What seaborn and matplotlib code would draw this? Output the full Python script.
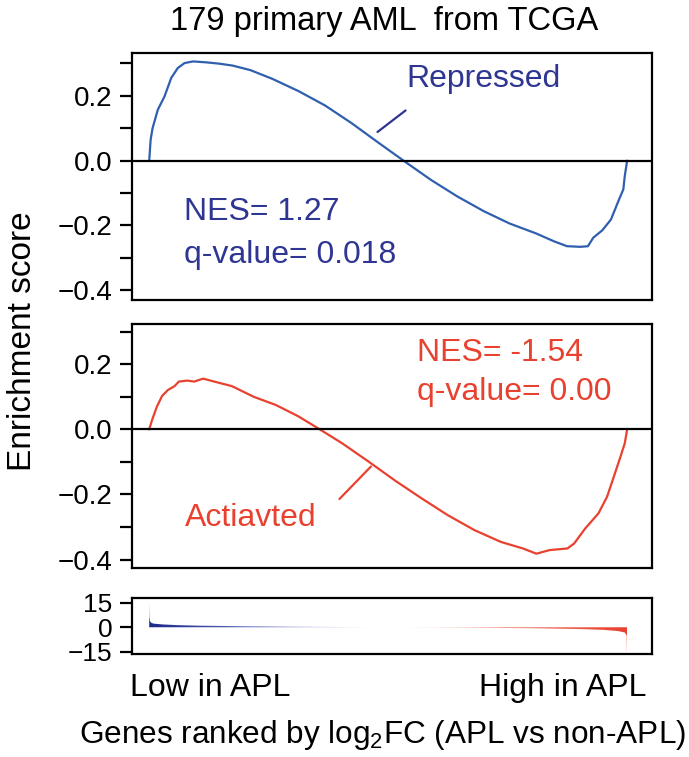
import numpy as np
import matplotlib
matplotlib.use("Agg")
import matplotlib.pyplot as plt
import seaborn as sns
from matplotlib.colors import LinearSegmentedColormap
from matplotlib.ticker import FixedLocator, FixedFormatter

# running enrichment score, repressed gene set (fraction of ranked list, ES)
rep_rank = [0, 0.003, 0.007, 0.018, 0.032, 0.046, 0.06, 0.074, 0.092, 0.12, 0.147,
            0.175, 0.212, 0.258, 0.313, 0.368, 0.423, 0.478, 0.532, 0.589, 0.644,
            0.70, 0.754, 0.81, 0.847, 0.874, 0.902, 0.918, 0.929, 0.948, 0.966,
            0.983, 0.992, 0.995, 1.0]
rep_es = [0, 0.065, 0.10, 0.157, 0.198, 0.255, 0.286, 0.301, 0.306, 0.303, 0.299,
          0.293, 0.279, 0.252, 0.214, 0.17, 0.116, 0.057, 0.0, -0.059, -0.11,
          -0.156, -0.194, -0.225, -0.249, -0.264, -0.266, -0.264, -0.238, -0.215, -0.182,
          -0.12, -0.089, -0.048, 0]

# running enrichment score, activated gene set
act_rank = [0, 0.006, 0.016, 0.027, 0.039, 0.053, 0.062, 0.08, 0.094, 0.113, 0.136,
            0.173, 0.219, 0.265, 0.311, 0.357, 0.404, 0.459, 0.515, 0.57, 0.625,
            0.681, 0.736, 0.782, 0.81, 0.838, 0.875, 0.889, 0.912, 0.94, 0.958,
            0.972, 0.986, 0.995, 1.0]
act_es = [0, 0.029, 0.07, 0.103, 0.121, 0.133, 0.147, 0.15, 0.147, 0.156, 0.147,
          0.133, 0.10, 0.075, 0.041, 0.0, -0.043, -0.099, -0.158, -0.212, -0.264,
          -0.31, -0.346, -0.366, -0.382, -0.371, -0.366, -0.351, -0.305, -0.258, -0.207,
          -0.146, -0.084, -0.043, 0]

# ranked log2FC metric
metric_rank = [0, 0.0005, 0.002, 0.005, 0.01, 0.03, 0.06, 0.1, 0.2, 0.3, 0.4, 0.5,
               0.6, 0.7, 0.8, 0.9, 0.95, 0.98, 0.995, 0.999, 0.9995, 1.0]
metric_fc = [15, 6, 3.5, 2.6, 2.2, 1.7, 1.3, 1.0, 0.6, 0.35, 0.15, 0.0,
             -0.15, -0.35, -0.6, -1.1, -1.6, -2.3, -3.2, -5.0, -15, -15]

es_ticks = [0.3, 0.2, 0.1, 0.0, -0.1, -0.2, -0.3, -0.4]
es_ticklabels = ["", "0.2", "", "0.0", "", "\u22120.2", "", "\u22120.4"]
fc_ticks = [15, 0, -15]
fc_ticklabels = ["15", "0", "\u221215"]

title = "179 primary AML  from TCGA"

BLUE_LINE = "#2f5fae"
BLUE_TEXT = "#2e3592"
RED = "#e8412f"

sns.set_style("white")
plt.rcParams['font.family'] = ['Liberation Sans', 'DejaVu Sans']
plt.rcParams['mathtext.fontset'] = 'custom'
plt.rcParams['mathtext.rm'] = 'Liberation Sans'
for key in ['text.color', 'axes.labelcolor', 'xtick.color', 'ytick.color']:
    plt.rcParams[key] = 'black'

fig = plt.figure(figsize=(6.89, 7.57), dpi=100)
ax1 = fig.add_axes([0.1916, 0.6037, 0.7547, 0.3263])
ax2 = fig.add_axes([0.1916, 0.2497, 0.7547, 0.3223])
ax3 = fig.add_axes([0.1916, 0.136, 0.7547, 0.074])

XLIM = (-0.036, 1.052)

def style_box(ax, labelsize=20):
    for sp in ax.spines.values():
        sp.set_visible(True)
        sp.set_color("black")
        sp.set_linewidth(1.6)
    ax.set_xlim(*XLIM)
    ax.set_xticks([])
    ax.tick_params(axis='y', direction='out', length=9, width=1.6, pad=5,
                   labelsize=labelsize, left=True, colors='black')
    ax.set_xlabel("")
    ax.set_ylabel("")

# top: repressed
sns.lineplot(x=rep_rank, y=rep_es, ax=ax1, color=BLUE_LINE, lw=1.6)
ax1.axhline(0, color='black', lw=1.6)
ax1.set_ylim(-0.43, 0.332)
style_box(ax1)
ax1.yaxis.set_major_locator(FixedLocator(es_ticks))
ax1.yaxis.set_major_formatter(FixedFormatter(es_ticklabels))
ax1.text(0.538, 0.252, "Repressed", color=BLUE_TEXT, fontsize=23, va='center', ha='left')
ax1.annotate("", xy=(0.473, 0.083), xytext=(0.541, 0.16),
             arrowprops=dict(arrowstyle='-', color=BLUE_TEXT, lw=1.6))
ax1.text(0.072, -0.16, "NES= 1.27", color=BLUE_TEXT, fontsize=23, va='center', ha='left')
ax1.text(0.072, -0.29, "q-value= 0.018", color=BLUE_TEXT, fontsize=23, va='center', ha='left')

# middle: activated
sns.lineplot(x=act_rank, y=act_es, ax=ax2, color=RED, lw=1.6)
ax2.axhline(0, color='black', lw=1.6)
ax2.set_ylim(-0.426, 0.324)
style_box(ax2)
ax2.yaxis.set_major_locator(FixedLocator(es_ticks))
ax2.yaxis.set_major_formatter(FixedFormatter(es_ticklabels))
ax2.text(0.56, 0.236, "NES= -1.54", color=RED, fontsize=23, va='center', ha='left')
ax2.text(0.56, 0.115, "q-value= 0.00", color=RED, fontsize=23, va='center', ha='left')
ax2.text(0.075, -0.271, "Actiavted", color=RED, fontsize=23, va='center', ha='left')
ax2.annotate("", xy=(0.468, -0.108), xytext=(0.394, -0.22),
             arrowprops=dict(arrowstyle='-', color=RED, lw=1.6))

# bottom: ranked metric with blue-white-red gradient fill
cmap = LinearSegmentedColormap.from_list("bwr_gsea", ["#1c2a8c", "#6a74c0", "#ffffff", "#f08070", RED])
poly = ax3.fill_between(metric_rank, 0, metric_fc, color='none', lw=0)
grad = np.linspace(0, 1, 256).reshape(1, -1)
im = ax3.imshow(grad, cmap=cmap, aspect='auto', extent=(0, 1, -16.5, 18), zorder=2)
im.set_clip_path(poly.get_paths()[0], transform=ax3.transData)
ax3.set_ylim(-16.5, 18)
style_box(ax3, labelsize=19)
ax3.yaxis.set_major_locator(FixedLocator(fc_ticks))
ax3.yaxis.set_major_formatter(FixedFormatter(fc_ticklabels))

# figure-level text
fig.text(0.558, 0.972, title, fontsize=23.5, ha='center', va='center')
fig.text(0.032, 0.5495, "Enrichment score", fontsize=24, rotation=90, ha='center', va='center')
fig.text(0.188, 1 - 688 / 757, "Low in APL", fontsize=23, ha='left', va='center')
fig.text(0.938, 1 - 688 / 757, "High in APL", fontsize=23, ha='right', va='center')
fig.text(0.555, 1 - 735 / 757, r"Genes ranked by log$_{\mathregular{2}}$FC (APL vs non-APL)",
         fontsize=22.7, ha='center', va='center')

fig.savefig("out.png", dpi=100)
